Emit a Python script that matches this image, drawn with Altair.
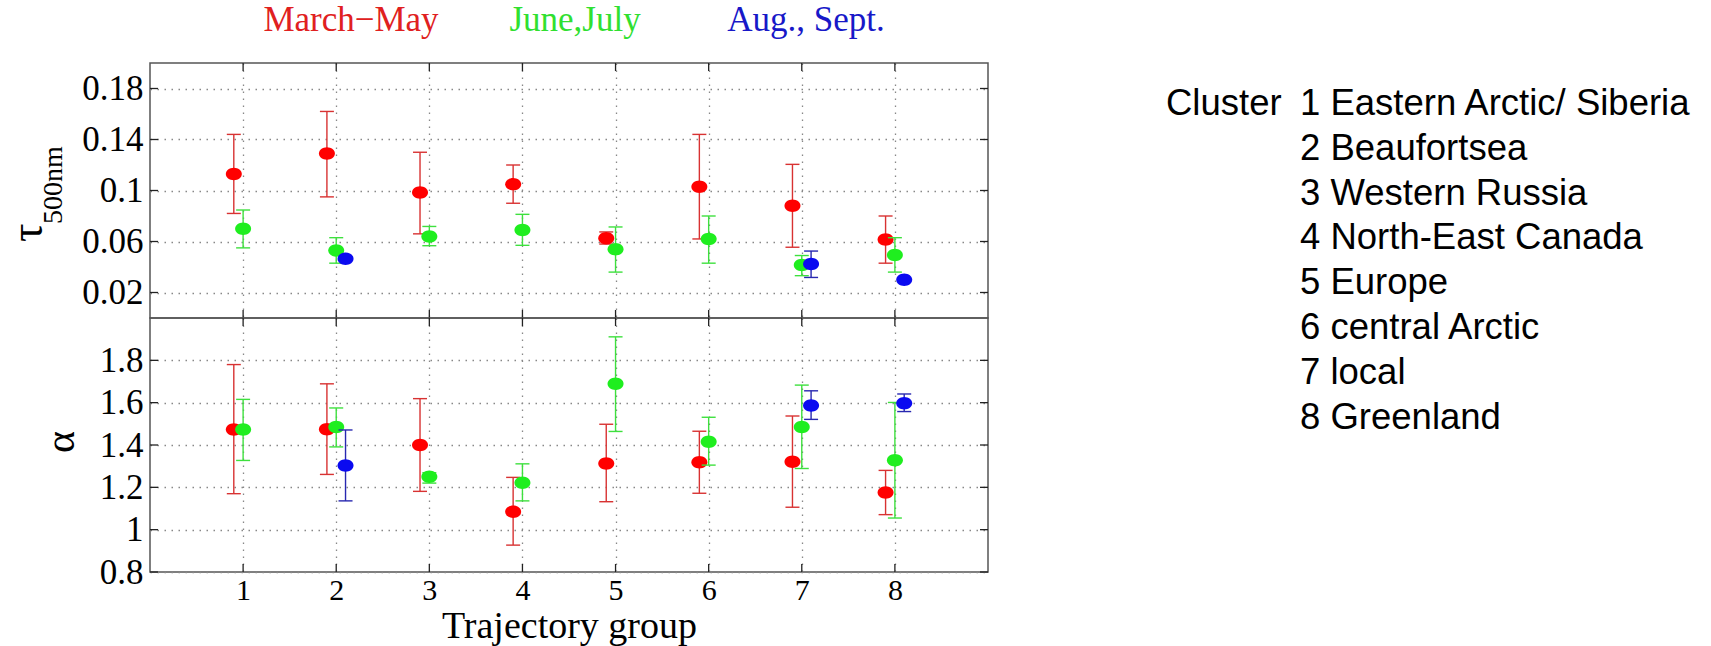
import altair as alt
import pandas as pd

groups = [1, 2, 3, 4, 5, 6, 7, 8]
seasons = ["March−May", "June,July", "Aug., Sept."]

# aerosol optical depth at 500 nm: mean and error-bar ends per trajectory group
tau_mam = [0.113, 0.129, 0.0985, 0.105, 0.0625, 0.103, 0.088, 0.0615]
tau_mam_lo = [0.082, 0.095, 0.066, 0.090, 0.058, 0.062, 0.0555, 0.043]
tau_mam_hi = [0.144, 0.162, 0.130, 0.120, 0.0675, 0.144, 0.1205, 0.080]
tau_jj = [0.070, 0.053, 0.064, 0.069, 0.054, 0.062, 0.0415, 0.0495]
tau_jj_lo = [0.055, 0.043, 0.0567, 0.057, 0.036, 0.043, 0.0332, 0.036]
tau_jj_hi = [0.0847, 0.063, 0.0718, 0.0813, 0.0714, 0.080, 0.049, 0.063]
as_groups = [2, 7, 8]
tau_as = [0.0465, 0.0424, 0.030]
tau_as_lo = [None, 0.0318, None]
tau_as_hi = [None, 0.0525, None]

# Angstrom exponent
alpha_mam = [1.473, 1.474, 1.40, 1.085, 1.313, 1.318, 1.321, 1.176]
alpha_mam_lo = [1.170, 1.261, 1.181, 0.927, 1.132, 1.172, 1.106, 1.071]
alpha_mam_hi = [1.780, 1.689, 1.619, 1.247, 1.498, 1.465, 1.537, 1.280]
alpha_jj = [1.473, 1.485, 1.25, 1.222, 1.689, 1.415, 1.485, 1.328]
alpha_jj_lo = [1.327, 1.391, 1.22, 1.136, 1.464, 1.305, 1.289, 1.055]
alpha_jj_hi = [1.6155, 1.575, 1.269, 1.311, 1.911, 1.531, 1.683, 1.601]
alpha_as = [1.303, 1.587, 1.597]
alpha_as_lo = [1.136, 1.521, 1.558]
alpha_as_hi = [1.471, 1.656, 1.641]

tau_ticks = [0.02, 0.06, 0.1, 0.14, 0.18]
alpha_ticks = [0.8, 1.0, 1.2, 1.4, 1.6, 1.8]

cluster_names = [
    "1 Eastern Arctic/ Siberia",
    "2 Beaufortsea",
    "3 Western Russia",
    "4 North-East Canada",
    "5 Europe",
    "6 central Arctic",
    "7 local",
    "8 Greenland",
]

# styling
dot_colors = {seasons[0]: "#ff0000", seasons[1]: "#1fee1f", seasons[2]: "#0a0af0"}
bar_colors = {seasons[0]: "#d83232", seasons[1]: "#3ee03e", seasons[2]: "#2828b0"}
head_colors = {seasons[0]: "#e02020", seasons[1]: "#30e030", seasons[2]: "#1818c8"}
offsets = {seasons[0]: -0.1, seasons[1]: 0.0, seasons[2]: 0.1}
ELLIPSE = "M-1,0A1,0.78,0,1,1,1,0A1,0.78,0,1,1,-1,0Z"
SERIF = "Liberation Serif"
SANS = "Liberation Sans"
TICK = "#222"
W, H_TOP, H_BOT = 838, 255, 254


def frame(season, grp, val, lo, hi):
    df = pd.DataFrame({"group": grp, "value": val, "lo": lo, "hi": hi})
    df["season"] = season
    df["xpos"] = df["group"] + offsets[season]
    return df


tau_series = [
    frame(seasons[0], groups, tau_mam, tau_mam_lo, tau_mam_hi),
    frame(seasons[1], groups, tau_jj, tau_jj_lo, tau_jj_hi),
    frame(seasons[2], as_groups, tau_as, tau_as_lo, tau_as_hi),
]
alpha_series = [
    frame(seasons[0], groups, alpha_mam, alpha_mam_lo, alpha_mam_hi),
    frame(seasons[1], groups, alpha_jj, alpha_jj_lo, alpha_jj_hi),
    frame(seasons[2], as_groups, alpha_as, alpha_as_lo, alpha_as_hi),
]


def panel(series, ydom, yvals, height, bottom):
    xscale = alt.Scale(domain=[0, 9], nice=False, zero=False)
    yscale = alt.Scale(domain=ydom, nice=False, zero=False)
    xaxis = alt.Axis(
        values=groups, grid=True, ticks=False, tickSize=0, domain=False,
        labels=bottom, labelPadding=3, labelAngle=0, labelFontSize=30,
        title="Trajectory group" if bottom else None,
        titleY=65.5, titleBaseline="alphabetic", titleFontSize=38,
    )
    yaxis = alt.Axis(
        values=yvals, grid=True, ticks=False, tickSize=0, domain=False,
        labelPadding=7, labelFontSize=35, title=None,
        labelExpr="format(datum.value, '~g')",
    )
    X = lambda f: alt.X(f, scale=xscale, axis=xaxis)
    Y = lambda f: alt.Y(f, scale=yscale, axis=yaxis)

    layers = []
    # inward tick marks on all four sides
    yt = alt.Chart(pd.DataFrame({"v": yvals}))
    layers.append(yt.mark_rule(color=TICK, strokeWidth=1.3).encode(
        y=Y("v:Q"), x=alt.value(0), x2=alt.value(8)))
    layers.append(yt.mark_rule(color=TICK, strokeWidth=1.3).encode(
        y=Y("v:Q"), x=alt.value(W - 8), x2=alt.value(W)))
    xt = alt.Chart(pd.DataFrame({"g": groups}))
    layers.append(xt.mark_rule(color=TICK, strokeWidth=1.3).encode(
        x=X("g:Q"), y=alt.value(0), y2=alt.value(8)))
    layers.append(xt.mark_rule(color=TICK, strokeWidth=1.3).encode(
        x=X("g:Q"), y=alt.value(height - 8), y2=alt.value(height)))

    for df in series:
        season = df["season"].iloc[0]
        bars = df.dropna(subset=["lo", "hi"])
        if len(bars):
            b = alt.Chart(bars)
            layers.append(b.mark_rule(color=bar_colors[season], strokeWidth=1.4).encode(
                x=X("xpos:Q"), y=Y("lo:Q"), y2="hi:Q"))
            for end in ("lo", "hi"):
                layers.append(b.mark_tick(orient="horizontal", size=14, thickness=1.4,
                                          color=bar_colors[season], opacity=1).encode(
                    x=X("xpos:Q"), y=Y(f"{end}:Q")))
        layers.append(alt.Chart(df).mark_point(
            shape=ELLIPSE, size=256, filled=True, opacity=1, strokeWidth=0,
            color=dot_colors[season]).encode(x=X("xpos:Q"), y=Y("value:Q")))
    return layers


one = pd.DataFrame({"k": [0]})

top_layers = panel(tau_series, [0, 0.2], tau_ticks, H_TOP, False)
# season headers
for name, cx in zip(seasons, [201, 425, 656]):
    top_layers.append(alt.Chart(one).mark_text(
        text=name, font=SERIF, fontSize=35, color=head_colors[name],
        align="center", baseline="alphabetic").encode(x=alt.value(cx), y=alt.value(-32)))
# y title: tau with subscript
top_layers.append(alt.Chart(one).mark_text(
    text="τ", font=SERIF, fontSize=46, angle=270, align="left",
    baseline="alphabetic").encode(x=alt.value(-108), y=alt.value(179)))
top_layers.append(alt.Chart(one).mark_text(
    text="500nm", font=SERIF, fontSize=28, angle=270, align="left",
    baseline="alphabetic").encode(x=alt.value(-88), y=alt.value(161)))
# cluster key
top_layers.append(alt.Chart(one).mark_text(
    text="Cluster", font=SANS, fontSize=36.5, align="left",
    baseline="alphabetic").encode(x=alt.value(1016), y=alt.value(52)))
top_layers.append(alt.Chart(one).mark_text(
    text=cluster_names, font=SANS, fontSize=36.5, lineHeight=44.8, align="left",
    baseline="alphabetic").encode(x=alt.value(1150), y=alt.value(52)))

bot_layers = panel(alpha_series, [0.8, 2.0], alpha_ticks, H_BOT, True)
bot_layers.append(alt.Chart(one).mark_text(
    text="α", font=SERIF, fontSize=42, angle=270, align="left",
    baseline="alphabetic").encode(x=alt.value(-76), y=alt.value(135)))

top = alt.layer(*top_layers).properties(width=W, height=H_TOP)
bottom = alt.layer(*bot_layers).properties(width=W, height=H_BOT)

chart = (
    alt.vconcat(top, bottom, spacing=0, bounds="flush")
    .properties(padding={"left": 4, "top": 2, "right": 0, "bottom": 0}, background="white")
    .configure_view(stroke="#555", strokeWidth=1.5)
    .configure_axis(
        labelFont=SERIF, labelColor="#000",
        titleFont=SERIF, titleFontWeight="normal", titleColor="#000",
        gridColor="#888", gridDash=[1.5, 5.5], gridWidth=1.3, gridOpacity=1,
    )
)

chart.save("out.html", embed_options={"renderer": "svg", "actions": False})
